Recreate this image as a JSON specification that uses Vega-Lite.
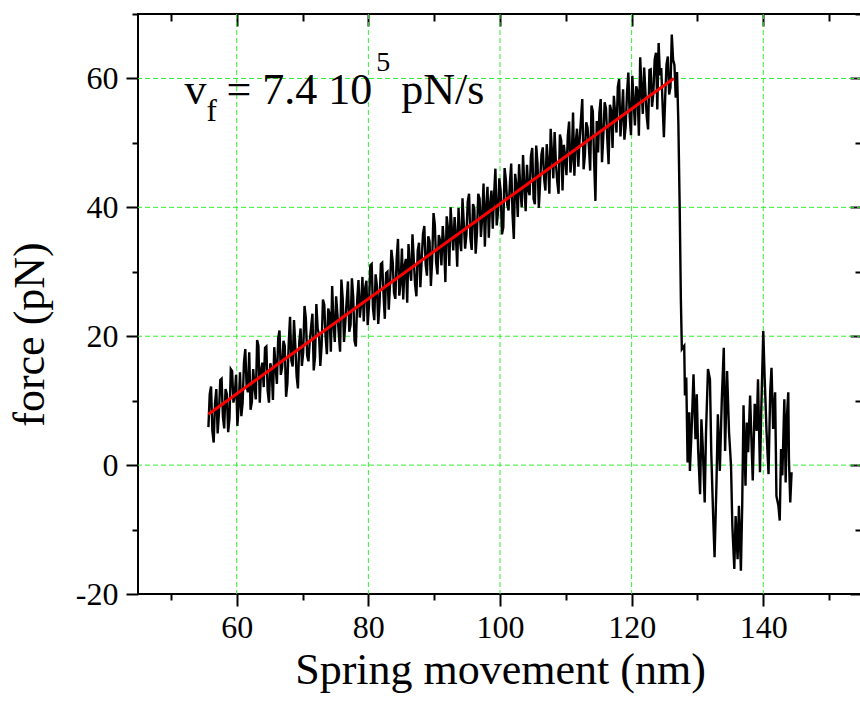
{
  "$schema": "https://vega.github.io/schema/vega-lite/v6.json",
  "width": 724,
  "height": 580,
  "autosize": {"type": "none"},
  "padding": {"left": 138, "top": 14, "right": 0, "bottom": 111},
  "background": "white",
  "config": {
    "view": {"stroke": "black", "strokeWidth": 2},
    "font": "Liberation Serif",
    "axis": {"labelFont": "Liberation Serif", "titleFont": "Liberation Serif"}
  },
  "datasets": {
    "force": [
      {"x":55.7,"y":5.9},{"x":55.9,"y":11.0},{"x":56.1,"y":12.2},{"x":56.3,"y":5.3},{"x":56.5,"y":3.5},{"x":56.7,"y":9.6},{"x":56.9,"y":11.8},{"x":57.1,"y":4.9},{"x":57.3,"y":8.1},{"x":57.5,"y":13.2},
      {"x":57.7,"y":13.4},{"x":57.9,"y":7.5},{"x":58.1,"y":5.7},{"x":58.3,"y":11.8},{"x":58.5,"y":11.0},{"x":58.7,"y":5.1},{"x":58.9,"y":7.3},{"x":59.1,"y":14.9},{"x":59.3,"y":14.6},{"x":59.5,"y":9.7},
      {"x":59.7,"y":10.9},{"x":59.9,"y":14.0},{"x":60.1,"y":6.1},{"x":60.3,"y":9.3},{"x":60.5,"y":14.4},{"x":60.7,"y":7.6},{"x":60.9,"y":9.7},{"x":61.1,"y":15.9},{"x":61.3,"y":18.0},{"x":61.5,"y":12.2},
      {"x":61.7,"y":11.3},{"x":61.9,"y":17.5},{"x":62.1,"y":8.6},{"x":62.3,"y":9.8},{"x":62.5,"y":14.9},{"x":62.7,"y":12.1},{"x":62.9,"y":10.2},{"x":63.1,"y":19.4},{"x":63.3,"y":18.5},{"x":63.5,"y":9.7},
      {"x":63.7,"y":14.8},{"x":63.9,"y":15.9},{"x":64.1,"y":12.1},{"x":64.3,"y":18.2},{"x":64.5,"y":18.4},{"x":64.7,"y":11.5},{"x":64.9,"y":9.7},{"x":65.1,"y":15.8},{"x":65.3,"y":15.0},{"x":65.5,"y":10.1},
      {"x":65.7,"y":18.3},{"x":65.9,"y":15.4},{"x":66.1,"y":12.6},{"x":66.3,"y":19.7},{"x":66.5,"y":20.9},{"x":66.7,"y":14.0},{"x":66.9,"y":15.2},{"x":67.1,"y":19.3},{"x":67.3,"y":18.5},{"x":67.5,"y":10.6},
      {"x":67.7,"y":12.7},{"x":67.9,"y":18.9},{"x":68.1,"y":23.0},{"x":68.3,"y":16.2},{"x":68.5,"y":15.3},{"x":68.7,"y":22.5},{"x":68.9,"y":18.6},{"x":69.1,"y":13.8},{"x":69.3,"y":11.9},{"x":69.5,"y":19.1},
      {"x":69.7,"y":21.2},{"x":69.9,"y":15.4},{"x":70.1,"y":17.5},{"x":70.3,"y":24.7},{"x":70.5,"y":22.8},{"x":70.7,"y":17.0},{"x":70.9,"y":16.1},{"x":71.1,"y":19.3},{"x":71.3,"y":21.4},{"x":71.5,"y":23.5},
      {"x":71.7,"y":14.7},{"x":71.9,"y":16.8},{"x":72.1,"y":25.0},{"x":72.3,"y":21.1},{"x":72.5,"y":20.3},{"x":72.7,"y":15.4},{"x":72.9,"y":18.6},{"x":73.1,"y":25.7},{"x":73.3,"y":24.9},{"x":73.5,"y":20.0},
      {"x":73.7,"y":17.2},{"x":73.9,"y":24.3},{"x":74.1,"y":23.5},{"x":74.3,"y":17.6},{"x":74.5,"y":27.8},{"x":74.7,"y":21.9},{"x":74.9,"y":19.1},{"x":75.1,"y":26.2},{"x":75.3,"y":23.4},{"x":75.5,"y":20.5},
      {"x":75.7,"y":17.6},{"x":75.9,"y":28.8},{"x":76.1,"y":25.9},{"x":76.3,"y":19.1},{"x":76.5,"y":22.2},{"x":76.7,"y":25.4},{"x":76.9,"y":28.5},{"x":77.1,"y":20.7},{"x":77.3,"y":21.8},{"x":77.5,"y":29.0},
      {"x":77.7,"y":26.1},{"x":77.9,"y":19.3},{"x":78.1,"y":18.4},{"x":78.3,"y":25.6},{"x":78.5,"y":28.7},{"x":78.7,"y":22.9},{"x":78.9,"y":25.0},{"x":79.1,"y":29.2},{"x":79.3,"y":22.3},{"x":79.5,"y":27.4},
      {"x":79.7,"y":28.6},{"x":79.9,"y":21.7},{"x":80.1,"y":24.9},{"x":80.3,"y":31.0},{"x":80.5,"y":31.2},{"x":80.7,"y":24.3},{"x":80.9,"y":22.5},{"x":81.1,"y":29.6},{"x":81.3,"y":27.8},{"x":81.5,"y":21.9},
      {"x":81.7,"y":25.1},{"x":81.9,"y":31.2},{"x":82.1,"y":31.4},{"x":82.3,"y":26.5},{"x":82.5,"y":22.7},{"x":82.7,"y":29.8},{"x":82.9,"y":30.0},{"x":83.1,"y":24.1},{"x":83.3,"y":28.2},{"x":83.5,"y":33.4},
      {"x":83.7,"y":31.5},{"x":83.9,"y":26.7},{"x":84.1,"y":25.8},{"x":84.3,"y":32.0},{"x":84.5,"y":35.1},{"x":84.7,"y":26.3},{"x":84.9,"y":28.4},{"x":85.1,"y":33.6},{"x":85.3,"y":25.7},{"x":85.5,"y":30.9},
      {"x":85.7,"y":32.0},{"x":85.9,"y":25.2},{"x":86.1,"y":34.3},{"x":86.3,"y":30.5},{"x":86.5,"y":28.6},{"x":86.7,"y":35.8},{"x":86.9,"y":31.9},{"x":87.1,"y":28.0},{"x":87.3,"y":26.2},{"x":87.5,"y":33.3},
      {"x":87.7,"y":34.5},{"x":87.9,"y":27.6},{"x":88.1,"y":31.8},{"x":88.3,"y":35.9},{"x":88.5,"y":37.1},{"x":88.7,"y":31.2},{"x":88.9,"y":29.4},{"x":89.1,"y":35.5},{"x":89.3,"y":34.7},{"x":89.5,"y":27.8},
      {"x":89.7,"y":32.0},{"x":89.9,"y":39.1},{"x":90.1,"y":37.3},{"x":90.3,"y":31.4},{"x":90.5,"y":29.6},{"x":90.7,"y":35.7},{"x":90.9,"y":34.8},{"x":91.1,"y":31.0},{"x":91.3,"y":37.1},{"x":91.5,"y":34.3},
      {"x":91.7,"y":28.4},{"x":91.9,"y":38.6},{"x":92.1,"y":36.7},{"x":92.3,"y":30.9},{"x":92.5,"y":40.0},{"x":92.7,"y":36.2},{"x":92.9,"y":33.3},{"x":93.1,"y":38.5},{"x":93.3,"y":35.6},{"x":93.5,"y":30.8},
      {"x":93.7,"y":39.9},{"x":93.9,"y":35.1},{"x":94.1,"y":33.2},{"x":94.3,"y":41.4},{"x":94.5,"y":37.5},{"x":94.7,"y":33.6},{"x":94.9,"y":35.8},{"x":95.1,"y":40.9},{"x":95.3,"y":42.1},{"x":95.5,"y":35.2},
      {"x":95.7,"y":33.4},{"x":95.9,"y":40.5},{"x":96.1,"y":39.7},{"x":96.3,"y":32.8},{"x":96.5,"y":36.0},{"x":96.7,"y":42.1},{"x":96.9,"y":41.3},{"x":97.1,"y":35.4},{"x":97.3,"y":38.6},{"x":97.5,"y":43.7},
      {"x":97.7,"y":33.9},{"x":97.9,"y":40.0},{"x":98.1,"y":43.2},{"x":98.3,"y":35.3},{"x":98.5,"y":40.5},{"x":98.7,"y":42.6},{"x":98.9,"y":36.7},{"x":99.1,"y":41.9},{"x":99.3,"y":46.0},{"x":99.5,"y":37.2},
      {"x":99.7,"y":39.3},{"x":99.9,"y":44.5},{"x":100.1,"y":42.6},{"x":100.3,"y":35.8},{"x":100.5,"y":36.9},{"x":100.7,"y":46.1},{"x":100.9,"y":44.2},{"x":101.1,"y":40.4},{"x":101.3,"y":39.5},{"x":101.5,"y":43.7},
      {"x":101.7,"y":46.8},{"x":101.9,"y":39.0},{"x":102.1,"y":35.1},{"x":102.3,"y":45.2},{"x":102.5,"y":43.4},{"x":102.7,"y":38.5},{"x":102.9,"y":46.7},{"x":103.1,"y":42.8},{"x":103.3,"y":40.0},{"x":103.5,"y":48.1},
      {"x":103.7,"y":43.3},{"x":103.9,"y":39.4},{"x":104.1,"y":46.6},{"x":104.3,"y":42.7},{"x":104.5,"y":41.9},{"x":104.7,"y":48.0},{"x":104.9,"y":49.2},{"x":105.1,"y":41.3},{"x":105.3,"y":40.5},{"x":105.5,"y":49.6},
      {"x":105.7,"y":46.8},{"x":105.9,"y":39.9},{"x":106.1,"y":44.0},{"x":106.3,"y":48.2},{"x":106.5,"y":49.3},{"x":106.7,"y":44.5},{"x":106.9,"y":42.6},{"x":107.1,"y":49.8},{"x":107.3,"y":46.9},{"x":107.5,"y":42.1},
      {"x":107.7,"y":52.2},{"x":107.9,"y":48.4},{"x":108.1,"y":44.5},{"x":108.3,"y":51.7},{"x":108.5,"y":46.8},{"x":108.7,"y":44.0},{"x":108.9,"y":42.1},{"x":109.1,"y":51.3},{"x":109.3,"y":50.4},{"x":109.5,"y":42.6},
      {"x":109.7,"y":49.7},{"x":109.9,"y":47.9},{"x":110.1,"y":45.0},{"x":110.3,"y":51.1},{"x":110.5,"y":53.3},{"x":110.7,"y":45.4},{"x":110.9,"y":47.6},{"x":111.1,"y":54.7},{"x":111.3,"y":44.9},{"x":111.5,"y":50.0},
      {"x":111.7,"y":52.2},{"x":111.9,"y":46.3},{"x":112.1,"y":50.5},{"x":112.3,"y":53.6},{"x":112.5,"y":56.8},{"x":112.7,"y":45.9},{"x":112.9,"y":48.1},{"x":113.1,"y":53.2},{"x":113.3,"y":52.4},{"x":113.5,"y":49.5},
      {"x":113.7,"y":45.7},{"x":113.9,"y":55.8},{"x":114.1,"y":54.9},{"x":114.3,"y":47.1},{"x":114.5,"y":41.0},{"x":114.7,"y":53.4},{"x":114.9,"y":48.5},{"x":115.1,"y":54.7},{"x":115.3,"y":56.8},{"x":115.5,"y":47.0},
      {"x":115.7,"y":51.1},{"x":115.9,"y":56.3},{"x":116.1,"y":55.4},{"x":116.3,"y":50.6},{"x":116.5,"y":46.7},{"x":116.7,"y":55.9},{"x":116.9,"y":55.0},{"x":117.1,"y":49.2},{"x":117.3,"y":57.3},{"x":117.5,"y":54.5},
      {"x":117.7,"y":51.6},{"x":117.9,"y":58.7},{"x":118.1,"y":59.9},{"x":118.3,"y":51.0},{"x":118.5,"y":54.2},{"x":118.7,"y":58.3},{"x":118.9,"y":50.5},{"x":119.1,"y":52.6},{"x":119.3,"y":57.8},{"x":119.5,"y":60.9},
      {"x":119.7,"y":54.1},{"x":119.9,"y":51.2},{"x":120.1,"y":60.4},{"x":120.3,"y":56.5},{"x":120.5,"y":52.7},{"x":120.7,"y":58.8},{"x":120.9,"y":58.0},{"x":121.1,"y":51.1},{"x":121.3,"y":63.3},{"x":121.5,"y":58.4},
      {"x":121.7,"y":54.5},{"x":121.9,"y":61.7},{"x":122.1,"y":57.8},{"x":122.3,"y":54.0},{"x":122.5,"y":52.1},{"x":122.7,"y":61.3},{"x":122.9,"y":61.4},{"x":123.1,"y":55.6},{"x":123.3,"y":57.7},{"x":123.5,"y":62.9},
      {"x":123.7,"y":64.0},{"x":123.9,"y":55.2},{"x":124.1,"y":65.5},{"x":124.3,"y":60.5},{"x":124.5,"y":61.6},{"x":124.7,"y":56.0},{"x":124.9,"y":50.9},{"x":125.1,"y":57.1},{"x":125.3,"y":62.2},{"x":125.5,"y":63.4},
      {"x":125.7,"y":57.5},{"x":125.9,"y":58.6},{"x":126.1,"y":66.8},{"x":126.3,"y":62.9},{"x":126.5,"y":62.1},
      {"x":126.7,"y":57.0},{"x":126.9,"y":61.0},{"x":127.1,"y":53.0},{"x":127.3,"y":40.0},{"x":127.48,"y":25.7},{"x":127.63,"y":18.0},{"x":127.99,"y":18.5},{"x":128.1,"y":10.8},{"x":128.3,"y":13.6},{"x":128.5,"y":0.4},
      {"x":128.75,"y":8.2},{"x":128.85,"y":-0.9},{"x":129.1,"y":5.1},{"x":129.4,"y":14.1},{"x":129.7,"y":4.0},{"x":129.9,"y":11.0},{"x":130.1,"y":2.5},{"x":130.4,"y":-4.5},{"x":130.6,"y":7.1},{"x":130.8,"y":3.0},
      {"x":131.1,"y":-5.8},{"x":131.3,"y":5.1},{"x":131.6,"y":14.9},{"x":131.9,"y":13.3},{"x":132.1,"y":1.9},{"x":132.4,"y":-8.4},{"x":132.6,"y":-14.3},{"x":132.9,"y":-2.4},{"x":133.1,"y":7.9},{"x":133.4,"y":-0.9},
      {"x":133.7,"y":10.2},{"x":134.0,"y":18.2},{"x":134.2,"y":2.2},{"x":134.5,"y":14.6},{"x":134.8,"y":5.1},{"x":135.1,"y":-0.1},{"x":135.3,"y":-9.4},{"x":135.6,"y":-16.1},{"x":135.8,"y":-7.9},{"x":136.1,"y":-14.6},
      {"x":136.3,"y":-6.3},{"x":136.6,"y":-16.4},{"x":136.8,"y":-6.3},{"x":137.0,"y":9.3},{"x":137.3,"y":-3.2},{"x":137.5,"y":6.6},{"x":137.7,"y":2.0},{"x":138.0,"y":10.8},{"x":138.2,"y":4.0},{"x":138.4,"y":-2.4},
      {"x":138.7,"y":9.5},{"x":139.0,"y":5.3},{"x":139.2,"y":13.3},{"x":139.5,"y":-1.1},{"x":139.7,"y":8.7},{"x":140.0,"y":20.8},{"x":140.2,"y":13.9},{"x":140.5,"y":5.1},{"x":140.8,"y":-1.4},{"x":141.05,"y":11.3},
      {"x":141.25,"y":15.1},{"x":141.5,"y":5.6},{"x":141.8,"y":11.3},{"x":142.0,"y":-4.8},{"x":142.3,"y":-6.3},{"x":142.5,"y":-8.6},{"x":142.7,"y":2.5},{"x":142.9,"y":-1.6},{"x":143.2,"y":10.2},{"x":143.4,"y":-2.7},
      {"x":143.6,"y":7.7},{"x":143.8,"y":11.3},{"x":143.9,"y":0.9},{"x":144.1,"y":-5.8},{"x":144.3,"y":-1.1}
    ],
    "fit": [{"x":55.7,"y":7.9},{"x":126.4,"y":60.0}],
    "gridx": [{"v":60},{"v":80},{"v":100},{"v":120},{"v":140}],
    "gridy": [{"v":0},{"v":20},{"v":40},{"v":60}],
    "notes": [
      {"t":"v","x":52.05,"y":56.1},
      {"t":"= 7.4 10","x":58.43,"y":56.1},
      {"t":"pN/s","x":85.0,"y":56.1}
    ],
    "sub": [{"t":"f","x":55.4,"y":53.4}],
    "sup": [{"t":"5","x":81.2,"y":61.2}]
  },
  "layer": [
    {
      "data": {"name": "gridx"},
      "mark": {"type": "rule", "color": "#33ee33", "strokeWidth": 1, "strokeDash": [5, 3]},
      "encoding": {
        "x": {
          "field": "v", "type": "quantitative",
          "scale": {"domain": [45, 155], "nice": false, "zero": false},
          "axis": {
            "orient": "bottom",
            "values": [50,60,70,80,90,100,110,120,130,140,150],
            "domain": false, "grid": false,
            "ticks": true, "tickColor": "black", "tickWidth": 2,
            "tickSize": {"condition": {"test": "datum.value % 20 === 0", "value": 12}, "value": 6},
            "labelExpr": "datum.value % 20 === 0 ? '' + datum.value : ''",
            "labelFont": "Liberation Serif", "labelFontSize": 32, "labelColor": "black",
            "labelPadding": 6, "labelFlush": false, "labelOverlap": false, "labelBound": false,
            "title": "Spring movement (nm)",
            "titleFont": "Liberation Serif", "titleFontSize": 44, "titleFontWeight": "normal", "titleColor": "black",
            "titleBaseline": "alphabetic", "titleY": 89
          }
        }
      }
    },
    {
      "data": {"name": "gridy"},
      "mark": {"type": "rule", "color": "#33ee33", "strokeWidth": 1, "strokeDash": [5, 3]},
      "encoding": {
        "y": {
          "field": "v", "type": "quantitative",
          "scale": {"domain": [-20, 70], "nice": false, "zero": false},
          "axis": {
            "orient": "left",
            "values": [-20,-10,0,10,20,30,40,50,60,70],
            "domain": false, "grid": false,
            "ticks": true, "tickColor": "black", "tickWidth": 2,
            "tickSize": {"condition": {"test": "datum.value % 20 === 0", "value": 12}, "value": 6},
            "labelExpr": "datum.value % 20 === 0 ? '' + datum.value : ''",
            "labelFont": "Liberation Serif", "labelFontSize": 32, "labelColor": "black",
            "labelPadding": 8, "labelFlush": false, "labelOverlap": false, "labelBound": false,
            "title": "force (pN)",
            "titleFont": "Liberation Serif", "titleFontSize": 44, "titleFontWeight": "normal", "titleColor": "black",
            "titleAngle": -90, "titleBaseline": "alphabetic", "titleAlign": "center",
            "titleX": -95, "titleY": 320
          }
        }
      }
    },
    {
      "data": {"name": "force"},
      "mark": {"type": "line", "color": "black", "strokeWidth": 2.4, "strokeJoin": "miter"},
      "encoding": {
        "x": {
          "field": "x", "type": "quantitative",
          "scale": {"domain": [45, 155], "nice": false, "zero": false},
          "axis": {
            "orient": "top",
            "values": [50,60,70,80,90,100,110,120,130,140,150],
            "domain": false, "grid": false, "labels": false, "title": null,
            "ticks": true, "tickColor": "black", "tickWidth": 2,
            "tickSize": {"condition": {"test": "datum.value % 20 === 0", "value": -12}, "value": -7}
          }
        },
        "y": {
          "field": "y", "type": "quantitative",
          "scale": {"domain": [-20, 70], "nice": false, "zero": false},
          "axis": {
            "orient": "right",
            "values": [-20,-10,0,10,20,30,40,50,60,70],
            "domain": false, "grid": false, "labels": false, "title": null,
            "ticks": true, "tickColor": "black", "tickWidth": 2,
            "tickSize": {"condition": {"test": "datum.value % 20 === 0", "value": -12}, "value": -7}
          }
        }
      }
    },
    {
      "data": {"name": "fit"},
      "mark": {"type": "line", "color": "#ff0000", "strokeWidth": 3},
      "encoding": {
        "x": {"field": "x", "type": "quantitative", "scale": {"domain": [45, 155], "nice": false, "zero": false}, "axis": null},
        "y": {"field": "y", "type": "quantitative", "scale": {"domain": [-20, 70], "nice": false, "zero": false}, "axis": null}
      }
    },
    {
      "data": {"name": "notes"},
      "mark": {"type": "text", "align": "left", "baseline": "alphabetic", "font": "Liberation Serif", "fontSize": 44, "color": "black"},
      "encoding": {
        "x": {"field": "x", "type": "quantitative", "scale": {"domain": [45, 155], "nice": false, "zero": false}, "axis": null},
        "y": {"field": "y", "type": "quantitative", "scale": {"domain": [-20, 70], "nice": false, "zero": false}, "axis": null},
        "text": {"field": "t"}
      }
    },
    {
      "data": {"name": "sub"},
      "mark": {"type": "text", "align": "left", "baseline": "alphabetic", "font": "Liberation Serif", "fontSize": 31, "color": "black"},
      "encoding": {
        "x": {"field": "x", "type": "quantitative", "scale": {"domain": [45, 155], "nice": false, "zero": false}, "axis": null},
        "y": {"field": "y", "type": "quantitative", "scale": {"domain": [-20, 70], "nice": false, "zero": false}, "axis": null},
        "text": {"field": "t"}
      }
    },
    {
      "data": {"name": "sup"},
      "mark": {"type": "text", "align": "left", "baseline": "alphabetic", "font": "Liberation Serif", "fontSize": 28, "color": "black"},
      "encoding": {
        "x": {"field": "x", "type": "quantitative", "scale": {"domain": [45, 155], "nice": false, "zero": false}, "axis": null},
        "y": {"field": "y", "type": "quantitative", "scale": {"domain": [-20, 70], "nice": false, "zero": false}, "axis": null},
        "text": {"field": "t"}
      }
    }
  ],
  "resolve": {"axis": {"x": "independent", "y": "independent"}}
}
